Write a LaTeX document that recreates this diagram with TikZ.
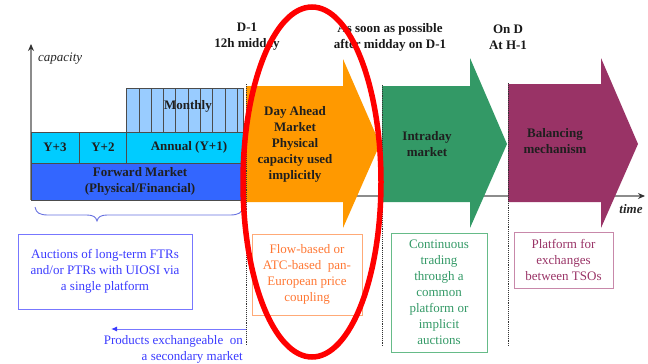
\documentclass[tikz,border=0pt]{standalone}
\usepackage{fontspec}
\setmainfont{Liberation Serif}
\usetikzlibrary{arrows.meta}

\definecolor{fwdblue}{HTML}{3366FF}
\definecolor{yearcyan}{HTML}{00CCFF}
\definecolor{monthblue}{HTML}{99CCFF}
\definecolor{daorange}{HTML}{FF9900}
\definecolor{idgreen}{HTML}{339966}
\definecolor{balpurple}{HTML}{993366}
\definecolor{auctext}{HTML}{3B3BFF}
\definecolor{aucline}{HTML}{7777FF}
\definecolor{bracecol}{HTML}{6670E0}
\definecolor{flowtext}{HTML}{FF7733}
\definecolor{flowline}{HTML}{FFAA77}
\definecolor{contline}{HTML}{66BB88}
\definecolor{platline}{HTML}{C888AA}
\definecolor{axisgray}{HTML}{8C8C8C}

\tikzset{
  cell/.style={draw=black!70, line width=0.5pt},
  lbl/.style={font=\fontsize{13}{16}\selectfont\bfseries, align=center, text=black!88, inner sep=0pt},
  note/.style={font=\fontsize{13}{16}\selectfont, align=center, inner sep=0pt},
  notebox/.style={draw, line width=1pt, minimum width=#1},
  phase/.style={densely dotted, draw=black!80, line width=0.9pt},
  blockarrow/.style={fill=#1, draw=none},
}

\begin{document}
\begin{tikzpicture}[x=1pt, y=-1pt]
\useasboundingbox (0,0) rectangle (648,364);

% axes
\coordinate (origin) at (31,200);
\coordinate (ytop) at (31,44);
\coordinate (tstart) at (31,196);
\coordinate (tend) at (645,196);
\draw[axisgray, line width=1.3pt, -{Stealth[length=7pt,width=6pt,black!80]}] (origin) -- (ytop);
\draw[axisgray, line width=1.3pt, -{Stealth[length=7pt,width=6pt,black!80]}] (tstart) -- (tend);
\node[font=\fontsize{13}{16}\selectfont\itshape, text=black!85, anchor=west, inner sep=0pt] (caplbl) at (38,59) {capacity};
\node[font=\fontsize{13}{16}\selectfont\bfseries\itshape, text=black!85, inner sep=0pt] (timelbl) at (631,209) {time};

% forward market stack
\fill[monthblue] (126.5,88) rectangle (243,132);
\draw[cell] (126.5,88) rectangle (243,132);
\foreach \i in {1,...,9} \draw[cell] (126.5+12.3*\i,88) -- (126.5+12.3*\i,132);
\fill[yearcyan] (31,132) rectangle (243,163);
\draw[cell] (31,132) rectangle (243,163);
\draw[cell] (79,132) -- (79,163);
\draw[cell] (126.5,132) -- (126.5,163);
\fill[fwdblue] (31,163) rectangle (243,200);
\draw[cell] (31,163) rectangle (243,200);

\node[lbl] (monthly) at (188,106) {Monthly};
\node[lbl] (y3) at (55,147) {Y+3};
\node[lbl] (y2) at (103,147) {Y+2};
\node[lbl] (annual) at (189,147) {Annual (Y+1)};
\node[lbl] (forward) at (140,181.5) {Forward Market\\(Physical/Financial)};

% brace under the forward market
\draw[bracecol, line width=0.9pt]
  (35,207) .. controls (36,213) and (40,215) .. (48,215)
  -- (87,215) .. controls (93,215) and (96,217) .. (97,221)
  .. controls (98,217) and (101,215) .. (107,215)
  -- (230,215) .. controls (238,215) and (242,213) .. (243,207);

% block arrows for the short-term markets
\path[blockarrow=daorange] (246,86) -- (343,86) -- (343,59) -- (380,144)
  -- (343,228) -- (343,202) -- (246,202) -- cycle;
\path[blockarrow=idgreen] (382,86) -- (470,86) -- (470,58) -- (507,144)
  -- (470,228) -- (470,202) -- (382,202) -- cycle;
\path[blockarrow=balpurple] (508,84) -- (601,84) -- (601,58) -- (638,144)
  -- (601,228) -- (601,202) -- (508,202) -- cycle;

\node[lbl] (dayahead) at (295,144.5) {Day Ahead\\Market\\Physical\\capacity used\\implicitly};
\node[lbl] (intraday) at (427,144) {Intraday\\market};
\node[lbl] (balancing) at (555,141) {Balancing\\mechanism};

% phase boundaries
\draw[phase] (246,84) -- (246,346);
\draw[phase] (382,85) -- (382,347);
\draw[phase] (508,83) -- (508,346);

% timing labels
\node[lbl, text=black!90] (tda) at (247,37) {D-1\\12h midday};
\node[lbl, text=black!90] (tid) at (390,37) {As soon as possible\\after midday on D-1};
\node[lbl, text=black!90] (tbal) at (508,37) {On D\\At H-1};

% description boxes
\node[note, notebox=174pt, draw=aucline, text=auctext, minimum height=75pt] (auctions) at (105,271.5)
  {Auctions of long-term FTRs\\and/or PTRs with UIOSI via\\a single platform};
\node[note, notebox=110pt, draw=flowline, text=flowtext, minimum height=81pt] (flow) at (307,274.5)
  {Flow-based or\\ATC-based\ \ pan-\\European price\\coupling};
\node[note, notebox=96pt, draw=contline, text=idgreen, minimum height=119pt] (cont) at (439,292.5)
  {Continuous\\trading\\through a\\common\\platform or\\implicit\\auctions};
\node[note, notebox=99pt, draw=platline, text=balpurple, minimum height=56pt] (plat) at (563.5,260)
  {Platform for\\exchanges\\between TSOs};

% secondary market pointer
\coordinate (secfrom) at (246,329);
\coordinate (secto) at (111,329);
\draw[aucline, line width=1pt, -{Latex[length=6pt,width=5pt,auctext]}] (secfrom) -- (secto);
\node[note, align=right, text=auctext, anchor=east] (secondary) at (243,349.5)
  {Products exchangeable\ \ on\\a secondary market};

% highlight around the day-ahead stage
\draw[red, line width=5.5pt] (312,182) ellipse [x radius=69, y radius=175];
\end{tikzpicture}
\end{document}
